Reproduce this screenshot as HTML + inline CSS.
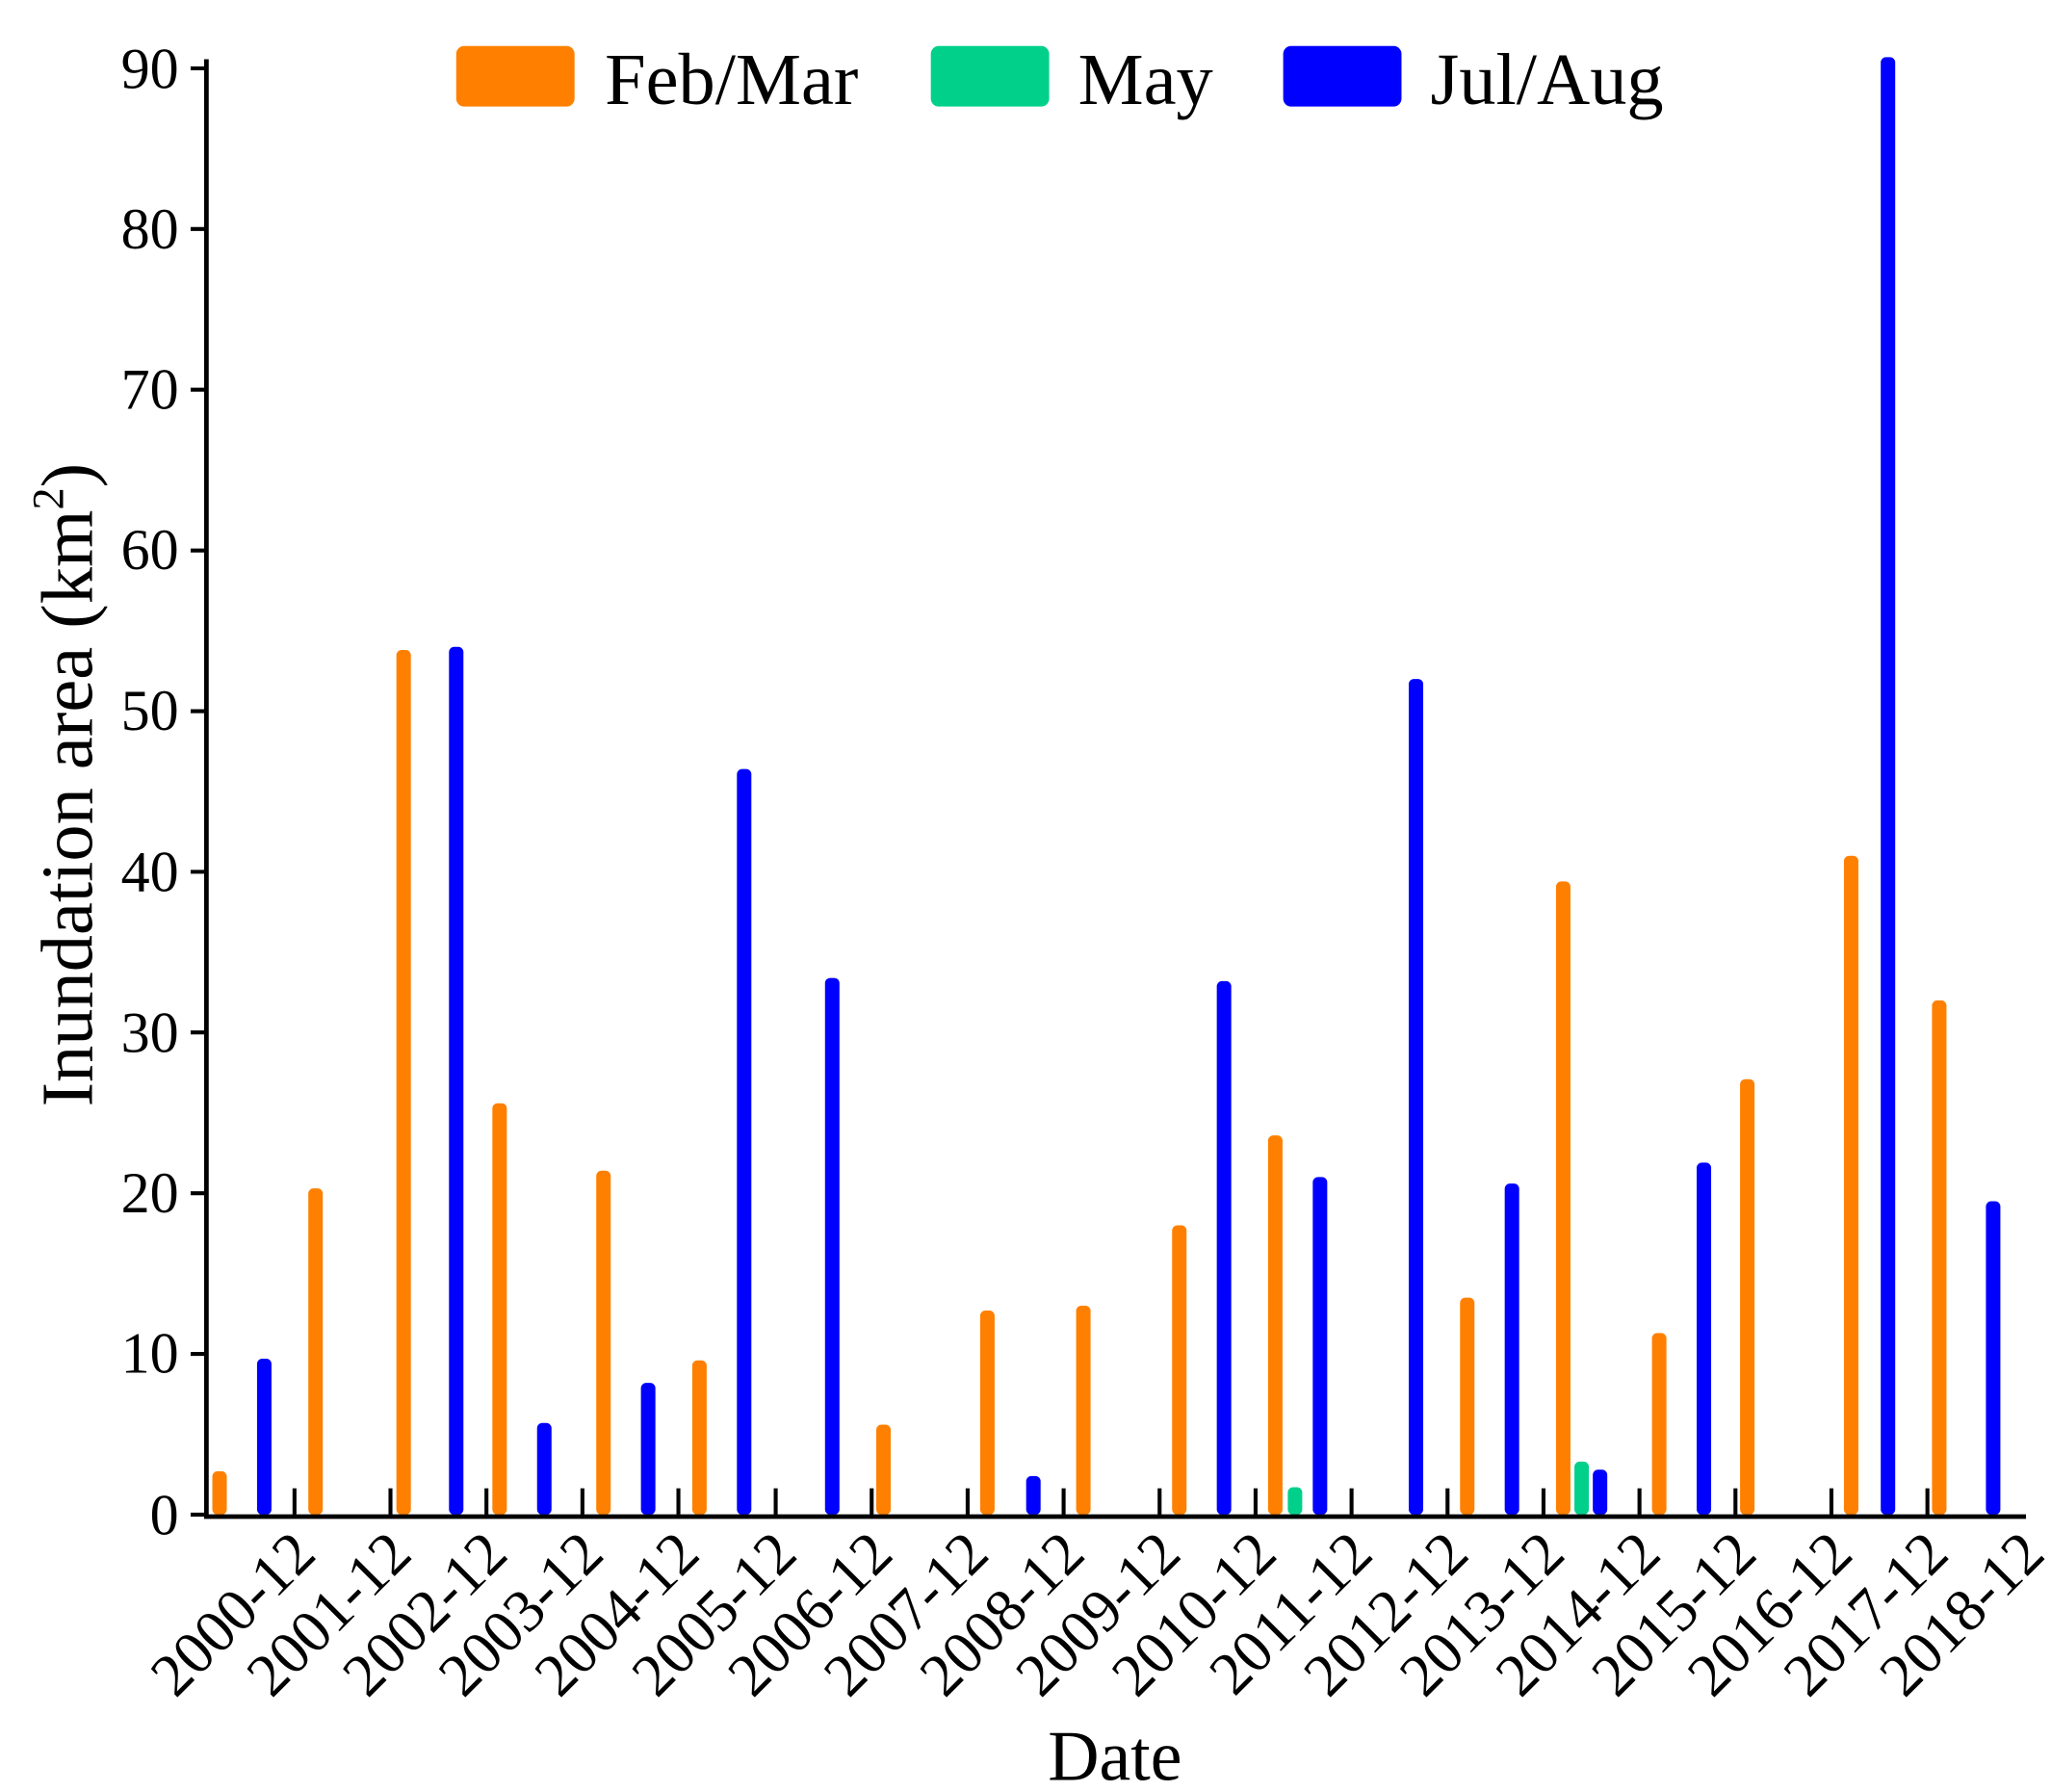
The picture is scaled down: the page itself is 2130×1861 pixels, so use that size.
<!DOCTYPE html>
<html><head><meta charset="utf-8"><style>html,body{margin:0;padding:0;background:#fff;}svg{display:block}</style></head>
<body>
<svg width="2130" height="1861" viewBox="0 0 2130 1861" xmlns="http://www.w3.org/2000/svg">
<g transform="scale(1.36538)" font-family="Liberation Serif, serif" fill="#000">
<g id="bars">
<rect x="161.5" y="1119" width="11" height="33" rx="4" fill="#FF8000"/>
<rect x="195.5" y="1033.4" width="11" height="118.6" rx="4" fill="#0000FF"/>
<rect x="234.5" y="903.9" width="11" height="248.1" rx="4" fill="#FF8000"/>
<rect x="301.5" y="494.4" width="11" height="657.6" rx="4" fill="#FF8000"/>
<rect x="341.5" y="492" width="11" height="660" rx="4" fill="#0000FF"/>
<rect x="374.5" y="839.1" width="11" height="312.9" rx="4" fill="#FF8000"/>
<rect x="408.5" y="1082.3" width="11" height="69.7" rx="4" fill="#0000FF"/>
<rect x="453.5" y="890.4" width="11" height="261.6" rx="4" fill="#FF8000"/>
<rect x="487.5" y="1051.8" width="11" height="100.2" rx="4" fill="#0000FF"/>
<rect x="526.5" y="1034.7" width="11" height="117.3" rx="4" fill="#FF8000"/>
<rect x="560.5" y="584.9" width="11" height="567.1" rx="4" fill="#0000FF"/>
<rect x="627.5" y="743.8" width="11" height="408.2" rx="4" fill="#0000FF"/>
<rect x="666.5" y="1083.6" width="11" height="68.4" rx="4" fill="#FF8000"/>
<rect x="745.5" y="996.8" width="11" height="155.2" rx="4" fill="#FF8000"/>
<rect x="780.5" y="1122.7" width="11" height="29.3" rx="4" fill="#0000FF"/>
<rect x="818.5" y="993.1" width="11" height="158.9" rx="4" fill="#FF8000"/>
<rect x="891.5" y="932" width="11" height="220" rx="4" fill="#FF8000"/>
<rect x="925.5" y="746.2" width="11" height="405.8" rx="4" fill="#0000FF"/>
<rect x="964.5" y="863.6" width="11" height="288.4" rx="4" fill="#FF8000"/>
<rect x="979.5" y="1131.2" width="11" height="20.8" rx="4" fill="#00D08A"/>
<rect x="998.5" y="895.3" width="11" height="256.7" rx="4" fill="#0000FF"/>
<rect x="1071.5" y="516.4" width="11" height="635.6" rx="4" fill="#0000FF"/>
<rect x="1110.5" y="987" width="11" height="165" rx="4" fill="#FF8000"/>
<rect x="1144.5" y="900.2" width="11" height="251.8" rx="4" fill="#0000FF"/>
<rect x="1183.5" y="670.4" width="11" height="481.6" rx="4" fill="#FF8000"/>
<rect x="1197.5" y="1111.7" width="11" height="40.3" rx="4" fill="#00D08A"/>
<rect x="1211.5" y="1117.8" width="11" height="34.2" rx="4" fill="#0000FF"/>
<rect x="1256.5" y="1013.9" width="11" height="138.1" rx="4" fill="#FF8000"/>
<rect x="1290.5" y="884.3" width="11" height="267.7" rx="4" fill="#0000FF"/>
<rect x="1323.5" y="820.8" width="11" height="331.2" rx="4" fill="#FF8000"/>
<rect x="1402.5" y="650.9" width="11" height="501.1" rx="4" fill="#FF8000"/>
<rect x="1430.5" y="43.5" width="11" height="1108.5" rx="4" fill="#0000FF"/>
<rect x="1469.5" y="760.9" width="11" height="391.1" rx="4" fill="#FF8000"/>
<rect x="1510.5" y="913.7" width="11" height="238.3" rx="4" fill="#0000FF"/>
</g>
<g stroke="#000" fill="none">
<path d="M157 45 V1153.5 H1541" stroke-width="3.5"/>
<path d="M145 52H157M145 174.2H157M145 296.4H157M145 418.7H157M145 540.9H157M145 663.1H157M145 785.3H157M145 907.6H157M145 1029.8H157M145 1152H157" stroke-width="3"/>
<path d="M224 1152V1132M297 1152V1132M370 1152V1132M443 1152V1132M516 1152V1132M590 1152V1132M663 1152V1132M736 1152V1132M809 1152V1132M882 1152V1132M955 1152V1132M1028 1152V1132M1101 1152V1132M1174 1152V1132M1247 1152V1132M1320 1152V1132M1393 1152V1132M1466 1152V1132" stroke-width="3"/>
</g>
<g font-size="44" text-anchor="end">
<text x="136" y="67">90</text><text x="136" y="189">80</text><text x="136" y="311">70</text>
<text x="136" y="433">60</text><text x="136" y="555">50</text><text x="136" y="678">40</text>
<text x="136" y="800">30</text><text x="136" y="922">20</text><text x="136" y="1044">10</text>
<text x="136" y="1167">0</text>
</g>
<g font-size="46" text-anchor="end">
<text transform="translate(242,1184) rotate(-45)">2000-12</text>
<text transform="translate(315,1184) rotate(-45)">2001-12</text>
<text transform="translate(388,1184) rotate(-45)">2002-12</text>
<text transform="translate(461,1184) rotate(-45)">2003-12</text>
<text transform="translate(534,1184) rotate(-45)">2004-12</text>
<text transform="translate(608,1184) rotate(-45)">2005-12</text>
<text transform="translate(681,1184) rotate(-45)">2006-12</text>
<text transform="translate(754,1184) rotate(-45)">2007-12</text>
<text transform="translate(827,1184) rotate(-45)">2008-12</text>
<text transform="translate(900,1184) rotate(-45)">2009-12</text>
<text transform="translate(973,1184) rotate(-45)">2010-12</text>
<text transform="translate(1046,1184) rotate(-45)">2011-12</text>
<text transform="translate(1119,1184) rotate(-45)">2012-12</text>
<text transform="translate(1192,1184) rotate(-45)">2013-12</text>
<text transform="translate(1265,1184) rotate(-45)">2014-12</text>
<text transform="translate(1338,1184) rotate(-45)">2015-12</text>
<text transform="translate(1411,1184) rotate(-45)">2016-12</text>
<text transform="translate(1484,1184) rotate(-45)">2017-12</text>
<text transform="translate(1557,1184) rotate(-45)">2018-12</text>
</g>
<text x="848" y="1354" font-size="54" text-anchor="middle">Date</text>
<text transform="translate(70,597) rotate(-90)" font-size="56" text-anchor="middle">Inundation area (km<tspan font-size="34" dy="-22">2</tspan><tspan dy="22">)</tspan></text>
<rect x="347" y="35" width="90" height="46" rx="6" fill="#FF8000"/>
<text x="460" y="79" font-size="56">Feb/Mar</text>
<rect x="708" y="35" width="90" height="46" rx="6" fill="#00D08A"/>
<text x="820" y="79" font-size="56">May</text>
<rect x="976" y="35" width="90" height="46" rx="6" fill="#0000FF"/>
<text x="1088" y="79" font-size="56">Jul/Aug</text>
</g>
</svg>
</body></html>
